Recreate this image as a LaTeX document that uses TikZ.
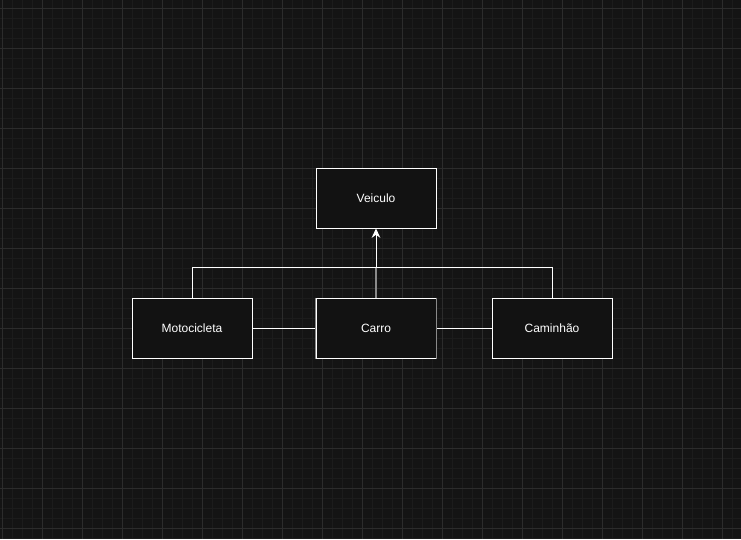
\documentclass[tikz,border=0pt]{standalone}
\usepackage{fontspec}
\setmainfont{Liberation Sans}
\usetikzlibrary{arrows.meta}
\definecolor{bg}{HTML}{141414}
\definecolor{gminor}{HTML}{1C1C1C}
\definecolor{gmajor}{HTML}{2C2C2C}
\definecolor{boxfill}{HTML}{121212}
\definecolor{sidegray}{HTML}{8A8A8A}
\begin{document}
\begin{tikzpicture}[x=0.75pt,y=-0.75pt,
  box/.style={draw=white, fill=boxfill, line width=0.75pt, minimum width=90pt, minimum height=45pt, inner sep=0pt, text=white, font=\fontsize{9}{11}\selectfont},
  conn/.style={draw=white, line width=0.75pt},
  grayconn/.style={draw=sidegray, line width=1.1pt},
  minorline/.style={draw=gminor, line width=0.75pt},
  majorline/.style={draw=gmajor, line width=0.75pt}]
\fill[bg] (0,0) rectangle (741,539);
\useasboundingbox (0,0) rectangle (741,539);
\foreach \x in {2,12,...,740} \draw[minorline] (\x,0) -- (\x,539);
\foreach \y in {8,18,...,538} \draw[minorline] (0,\y) -- (741,\y);
\foreach \x in {2,42,...,740} \draw[majorline] (\x,0) -- (\x,539);
\foreach \y in {8,48,...,538} \draw[majorline] (0,\y) -- (741,\y);

\node[box] (veiculo) at (376,198) {Veiculo};
\node[box] (moto) at (192,328) {Motocicleta};
\node[box] (carro) at (376,328) {Carro};
\node[box] (camin) at (552,328) {Caminhão};

\coordinate (join) at (376,268);
\draw[conn, -{Stealth[length=7pt,width=6.5pt]}] (carro.north) -- (veiculo.south);
\draw[grayconn] (carro.north) -- (join);
\draw[conn] (moto.north) -- ++(0,-30) -| (camin.north);
\draw[conn] (moto.east) -- (carro.west);
\draw[conn] (carro.east) -- (camin.west);
\draw[grayconn] (carro.north west) -- (carro.south west);
\draw[grayconn] (carro.north east) -- (carro.south east);
\end{tikzpicture}
\end{document}
